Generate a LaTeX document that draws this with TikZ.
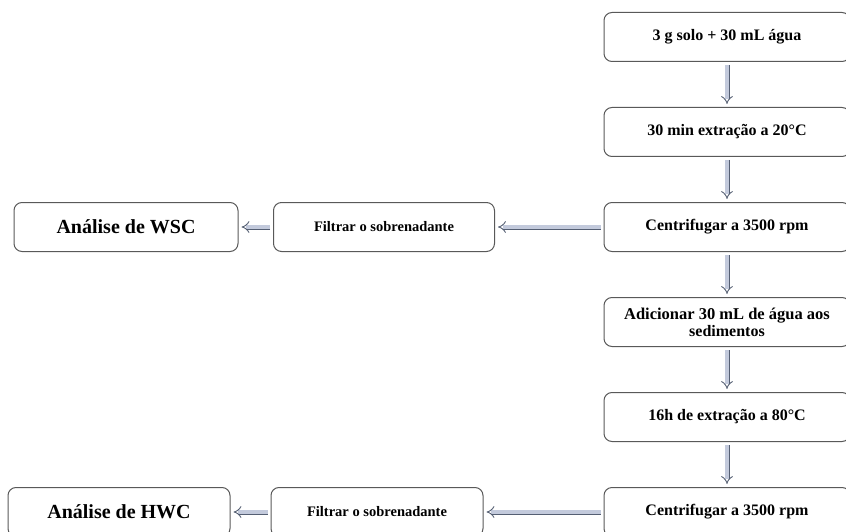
\documentclass[tikz,border=0pt]{standalone}
\usepackage{fontspec}
\setmainfont{Liberation Serif}
\usetikzlibrary{arrows.meta,positioning}
\definecolor{flowline}{RGB}{85,95,115}
\definecolor{flowfill}{RGB}{195,202,220}

\begin{document}
\begin{tikzpicture}[x=1pt,y=1pt]
\tikzstyle{stepbox}=[rectangle,rounded corners=8pt,draw=black!65,line width=1pt,
inner sep=2pt,minimum height=49pt,align=center,font=\bfseries\fontsize{16}{17}\selectfont]
\tikzstyle{flow}=[draw=flowline,line width=0.9pt,double=flowfill,double distance=3.2pt,
-{Implies},shorten >=3pt,shorten <=3pt]
\clip (0,0) rectangle (846,-532);
\useasboundingbox (0,0) rectangle (846,-532);

\node[stepbox,minimum width=246pt] at (727,-37) (s0) {3 g solo + 30 mL água};
\node[stepbox,minimum width=246pt,below of=s0,node distance=95pt] (s1) {30 min extração a 20°C};
\node[stepbox,minimum width=246pt,below of=s1,node distance=95pt] (c1) {Centrifugar a 3500 rpm};
\node[stepbox,minimum width=246pt,below of=c1,node distance=95pt] (s2) {\fontsize{16.5}{20}\selectfont Adicionar 30 mL de água aos\\ sedimentos};
\node[stepbox,minimum width=246pt,below of=s2,node distance=95pt] (s3) {16h de extração a 80°C};
\node[stepbox,minimum width=246pt,below of=s3,node distance=95pt] (c2) {Centrifugar a 3500 rpm};

\node[stepbox,minimum width=221pt,left of=c1,node distance=343pt] (f1) {\fontsize{14.5}{16}\selectfont Filtrar o sobrenadante};
\node[stepbox,minimum width=224pt,left of=f1,node distance=258pt] (a1) {\fontsize{20}{21}\selectfont Análise de WSC};
\node[stepbox,minimum width=212pt,left of=c2,node distance=350pt] (f2) {\fontsize{14.5}{16}\selectfont Filtrar o sobrenadante};
\node[stepbox,minimum width=222pt,left of=f2,node distance=258pt] (a2) {\fontsize{20}{21}\selectfont Análise de HWC};

\draw[flow] (s0) -- (s1);
\draw[flow] (s1) -- (c1);
\draw[flow] (c1) -- (s2);
\draw[flow] (s2) -- (s3);
\draw[flow] (s3) -- (c2);
\draw[flow] (c1) -- (f1);
\draw[flow] (f1) -- (a1);
\draw[flow] (c2) -- (f2);
\draw[flow] (f2) -- (a2);

\end{tikzpicture}
\end{document}
